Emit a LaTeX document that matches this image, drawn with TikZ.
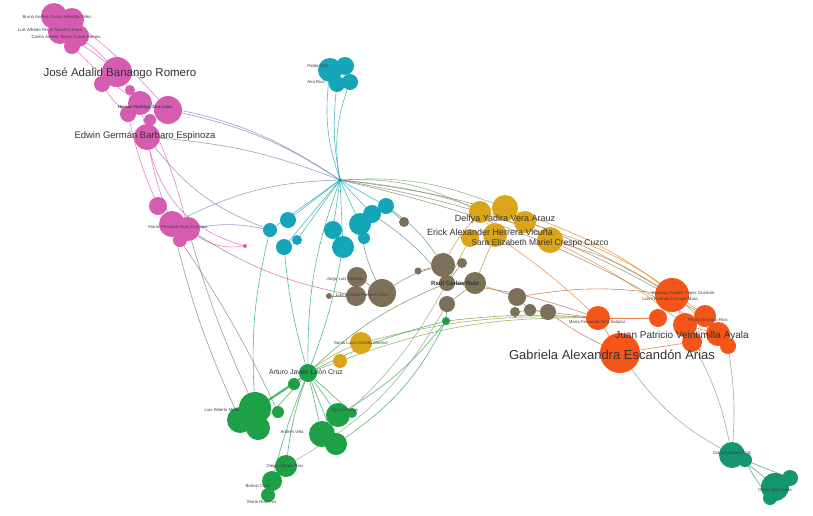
\documentclass[tikz,border=0pt]{standalone}
\usepackage{fontspec}
\setmainfont{Liberation Sans}
\usetikzlibrary{backgrounds}
\definecolor{pinkc}{RGB}{214,92,178}
\definecolor{tealc}{RGB}{20,165,185}
\definecolor{brownc}{RGB}{125,112,88}
\definecolor{goldc}{RGB}{218,165,25}
\definecolor{orangec}{RGB}{244,85,25}
\definecolor{greenc}{RGB}{30,160,70}
\definecolor{seac}{RGB}{20,150,110}
\begin{document}
\begin{tikzpicture}[x=1pt, y=-1pt,
  nd/.style={circle, inner sep=0pt, minimum size=#1pt},
  pk/.style={nd=#1, fill=pinkc},
  tl/.style={nd=#1, fill=tealc},
  br/.style={nd=#1, fill=brownc},
  gd/.style={nd=#1, fill=goldc},
  og/.style={nd=#1, fill=orangec},
  gr/.style={nd=#1, fill=greenc},
  sg/.style={nd=#1, fill=seac},
  ed/.style={draw=#1, line width=0.6pt, draw opacity=0.75},
  lab/.style={font=\fontsize{4.3}{4.3}\selectfont, text=black!75, inner sep=0pt},
  biglab/.style={font=\fontsize{#1}{#1}\selectfont, text=black!80, inner sep=0pt}
]
\path[use as bounding box] (0,0) rectangle (813,515);
% pink group
\node[pk=26] (p1) at (54,16) {};
\node[pk=24] (p2) at (72,20) {};
\node[pk=24] (p3) at (60,32) {};
\node[pk=22] (p4) at (78,36) {};
\node[pk=16] (p5) at (72,46) {};
\node[pk=30] (p6) at (117,72) {};
\node[pk=16] (p7) at (102,84) {};
\node[pk=10] (p8) at (130,90) {};
\node[pk=24] (p9) at (140,103) {};
\node[pk=28] (p10) at (168,110) {};
\node[pk=16] (p11) at (128,114) {};
\node[pk=12] (p12) at (150,120) {};
\node[pk=26] (p13) at (147,137) {};
\node[pk=18] (p14) at (158,206) {};
\node[pk=26] (p15) at (172,224) {};
\node[pk=24] (p16) at (188,229) {};
\node[pk=14] (p17) at (180,240) {};
\node[pk=4] (p18) at (245,246) {};
% teal group
\node[tl=24] (t1) at (330,70) {};
\node[tl=18] (t2) at (345,66) {};
\node[tl=16] (t3) at (350,82) {};
\node[tl=16] (t4) at (337,84) {};
\node[tl=4] (th) at (340,180) {};
\node[tl=14] (t5) at (270,230) {};
\node[tl=16] (t6) at (288,220) {};
\node[tl=16] (t7) at (284,247) {};
\node[tl=10] (t8) at (297,240) {};
\node[tl=18] (t9) at (333,230) {};
\node[tl=22] (t10) at (343,247) {};
\node[tl=22] (t11) at (360,224) {};
\node[tl=18] (t12) at (372,214) {};
\node[tl=16] (t13) at (386,206) {};
\node[tl=12] (t14) at (364,238) {};
% brown group
\node[br=10] (b1) at (404,222) {};
\node[br=20] (b2) at (357,277) {};
\node[br=28] (b3) at (382,293) {};
\node[br=20] (b4) at (356,296) {};
\node[br=6] (b5) at (329,296) {};
\node[br=7] (b6) at (418,271) {};
\node[br=24] (b7) at (443,265) {};
\node[br=10] (b8) at (462,263) {};
\node[br=16] (b9) at (447,283) {};
\node[br=22] (b10) at (475,283) {};
\node[br=16] (b11) at (447,304) {};
\node[br=18] (b12) at (517,297) {};
\node[br=12] (b13) at (530,310) {};
\node[br=16] (b14) at (548,312) {};
\node[br=10] (b15) at (515,312) {};
% gold group
\node[gd=22] (y1) at (480,212) {};
\node[gd=26] (y2) at (505,208) {};
\node[gd=22] (y3) at (525,222) {};
\node[gd=24] (y4) at (495,235) {};
\node[gd=26] (y5) at (550,240) {};
\node[gd=18] (y6) at (470,238) {};
\node[gd=22] (y7) at (361,343) {};
\node[gd=14] (y8) at (340,361) {};
% orange group
\node[og=24] (o1) at (598,318) {};
\node[og=40] (o2) at (620,353) {};
\node[og=34] (o3) at (672,295) {};
\node[og=18] (o4) at (658,318) {};
\node[og=24] (o5) at (685,325) {};
\node[og=22] (o6) at (705,316) {};
\node[og=24] (o7) at (718,334) {};
\node[og=20] (o8) at (692,342) {};
\node[og=16] (o9) at (728,346) {};
% green group
\node[gr=8] (g0) at (446,321) {};
\node[gr=18] (gh) at (308,373) {};
\node[gr=12] (g1) at (294,384) {};
\node[gr=32] (g2) at (255,408) {};
\node[gr=26] (g3) at (240,420) {};
\node[gr=24] (g4) at (258,428) {};
\node[gr=12] (g5) at (278,412) {};
\node[gr=24] (g6) at (338,415) {};
\node[gr=26] (g7) at (322,434) {};
\node[gr=22] (g8) at (336,444) {};
\node[gr=22] (g9) at (286,466) {};
\node[gr=20] (g10) at (272,481) {};
\node[gr=14] (g11) at (268,495) {};
\node[gr=10] (g12) at (352,413) {};
% sea green group
\node[sg=26] (s1) at (732,455) {};
\node[sg=14] (s2) at (745,460) {};
\node[sg=28] (s3) at (775,487) {};
\node[sg=16] (s4) at (790,478) {};
\node[sg=14] (s5) at (770,498) {};

\begin{pgfonlayer}{background}
\fill[white] (0,0) rectangle (813,515);
% pink links
\draw[ed=pinkc] (p2) to[bend left=5] (p10);
\draw[ed=pinkc] (p3) to[bend left=5] (p6);
\draw[ed=pinkc] (p4) to[bend left=5] (p6);
\draw[ed=pinkc] (p5) to[bend right=5] (p9);
\draw[ed=pinkc] (p6) -- (p9);
\draw[ed=pinkc] (p7) to[bend right=8] (p11);
\draw[ed=pinkc] (p9) -- (p13);
\draw[ed=pinkc] (p11) to[bend right=5] (p14);
\draw[ed=pinkc] (p13) to[bend right=5] (p15);
\draw[ed=pinkc] (p12) to[bend left=5] (p16);
\draw[ed=pinkc] (p13) to[bend right=30] (p18);
\draw[ed=pinkc] (p16) to[bend right=20] (p18);
% pink to teal
\draw[ed=tealc!45!pinkc] (p10) to[bend left=10] (th);
\draw[ed=tealc!45!pinkc] (p13) to[bend left=8] (th);
\draw[ed=tealc!45!pinkc] (p9) to[bend left=12] (th);
\draw[ed=tealc!45!pinkc] (p15) to[bend left=12] (th);
\draw[ed=tealc!45!pinkc] (p16) to[bend left=10] (t5);
\draw[ed=tealc!45!pinkc] (p13) to[bend right=15] (t5);
\draw[ed=pinkc!60!brownc] (p16) to[bend right=10] (b4);
% teal links
\draw[ed=tealc] (t1) to[bend right=12] (th);
\draw[ed=tealc] (t4) to[bend right=8] (th);
\draw[ed=tealc] (t3) to[bend right=14] (th);
\foreach \t in {t5,t6,t7,t8,t9,t10,t11,t12,t13}
  \draw[ed=tealc] (th) -- (\t);
\draw[ed=tealc] (t11) -- (t14);
\draw[ed=tealc!50!goldc] (th) to[bend left=14] (y1);
\draw[ed=tealc!50!goldc] (th) to[bend left=12] (y2);
\draw[ed=tealc!50!goldc] (th) to[bend left=10] (y5);
\draw[ed=tealc!50!orangec] (th) to[bend left=12] (o3);
\draw[ed=tealc!50!orangec] (th) to[bend left=10] (o6);
\draw[ed=tealc!50!orangec] (th) to[bend left=9] (o7);
\draw[ed=tealc!50!brownc] (t13) to[bend left=10] (b7);
\draw[ed=tealc!50!brownc] (t12) to[bend left=8] (b9);
\draw[ed=tealc!50!brownc] (t11) to[bend right=8] (b3);
\draw[ed=tealc!50!brownc] (b1) -- (t13);
\draw[ed=tealc!50!greenc] (th) to[bend right=10] (gh);
\draw[ed=tealc!50!greenc] (t7) to[bend right=5] (gh);
\draw[ed=tealc!50!greenc] (t10) to[bend left=5] (gh);
\draw[ed=tealc!50!greenc] (t5) to[bend right=8] (g2);
% pink to green
\draw[ed=pinkc!40!greenc] (p15) to[bend right=5] (g3);
\draw[ed=pinkc!40!greenc] (p16) to[bend right=4] (g2);
\draw[ed=pinkc!40!greenc] (p17) to[bend left=4] (g5);
% brown links
\draw[ed=brownc] (b2) -- (b3);
\draw[ed=brownc] (b4) -- (b3);
\draw[ed=brownc] (b5) -- (b4);
\draw[ed=brownc] (b3) to[bend left=8] (b7);
\draw[ed=brownc] (b6) -- (b7);
\draw[ed=brownc] (b7) -- (b9);
\draw[ed=brownc] (b8) -- (b9);
\draw[ed=brownc] (b9) -- (b10);
\draw[ed=brownc] (b11) -- (b10);
\draw[ed=brownc] (b10) -- (b12);
\draw[ed=brownc] (b12) -- (b13);
\draw[ed=brownc] (b13) -- (b14);
\draw[ed=brownc] (b15) -- (b13);
\draw[ed=brownc!50!orangec] (b9) to[bend left=6] (o1);
\draw[ed=brownc!50!orangec] (b13) -- (o1);
\draw[ed=brownc!50!orangec] (b14) to[bend right=5] (o2);
\draw[ed=brownc!50!orangec] (b12) to[bend left=8] (o3);
% gold links
\draw[ed=goldc!50!brownc] (y1) to[bend right=6] (b7);
\draw[ed=goldc!50!brownc] (y6) -- (b9);
\draw[ed=goldc!50!brownc] (y4) -- (b10);
\draw[ed=goldc!50!orangec] (y5) to[bend left=8] (o3);
\draw[ed=goldc!50!orangec] (y5) to[bend left=6] (o5);
\draw[ed=goldc!50!orangec] (y3) to[bend left=10] (o6);
\draw[ed=goldc!50!orangec] (y4) to[bend left=4] (o1);
\draw[ed=goldc!50!orangec] (y2) to[bend left=12] (o7);
\draw[ed=goldc] (y1) -- (y4);
\draw[ed=goldc] (y3) -- (y5);
% green links
\foreach \g in {g1,g2,g3,g4,g6,g7,g8,g12}
  \draw[ed=greenc] (gh) -- (\g);
\draw[ed=greenc] (gh) to[bend right=6] (g9);
\draw[ed=greenc] (gh) to[bend right=4] (g10);
\draw[ed=greenc] (g1) -- (g2);
\draw[ed=greenc] (g1) -- (g3);
\draw[ed=greenc] (g2) -- (g4);
\draw[ed=greenc] (g5) -- (g2);
\draw[ed=greenc] (g6) -- (g7);
\draw[ed=greenc] (g7) -- (g8);
\draw[ed=greenc] (g9) -- (g10);
\draw[ed=greenc] (g10) -- (g11);
\draw[ed=greenc!50!goldc] (gh) to[bend left=8] (y7);
\draw[ed=greenc!50!goldc] (gh) -- (y8);
\draw[ed=greenc!50!goldc] (y7) to[bend left=8] (o1);
\draw[ed=greenc!50!goldc] (y8) to[bend left=10] (o1);
\draw[ed=greenc!50!brownc] (gh) to[bend left=10] (b9);
\draw[ed=greenc] (gh) to[bend left=6] (g0);
\draw[ed=greenc] (g6) to[bend right=10] (g0);
\draw[ed=greenc] (g8) to[bend right=14] (g0);
\draw[ed=greenc!50!orangec] (g0) to[bend left=5] (o1);
\draw[ed=greenc!50!brownc] (g0) -- (b11);
\draw[ed=greenc!40!black!50] (g9) to[bend right=15] (b11);
\draw[ed=greenc!40!black!50] (g7) to[bend right=10] (b9);
% orange links
\draw[ed=orangec] (o1) -- (o2);
\draw[ed=orangec] (o4) -- (o1);
\draw[ed=orangec] (o3) -- (o4);
\draw[ed=orangec] (o3) -- (o5);
\draw[ed=orangec] (o5) -- (o6);
\draw[ed=orangec] (o5) -- (o7);
\draw[ed=orangec] (o7) -- (o9);
\draw[ed=orangec] (o8) -- (o2);
% orange to sea green
\draw[ed=black!45] (o2) to[bend right=12] (s1);
\draw[ed=black!45] (o8) to[bend left=8] (s1);
\draw[ed=black!45] (o9) to[bend left=6] (s1);
\draw[ed=seac] (s1) to[bend left=5] (s3);
\draw[ed=seac] (s2) to[bend right=5] (s5);
\draw[ed=seac] (s1) -- (s4);
\end{pgfonlayer}

% labels
\node[biglab=11.5] (lJose) at (120,73) {José Adalid Banango Romero};
\node[biglab=9.5] (lEdwin) at (145,136) {Edwin Germán Barbaro Espinoza};
\node[biglab=9] (lDelfya) at (505,219) {Delfya Yadira Vera Arauz};
\node[biglab=9] (lErick) at (490,232) {Erick Alexander Herrera Vicuña};
\node[biglab=8.5] (lSara) at (540,243) {Sara Elizabeth Mariel Crespo Cuzco};
\node[biglab=13] (lGabi) at (612,355) {Gabriela Alexandra Escandón Arias};
\node[biglab=10] (lJuan) at (682,336) {Juan Patricio Veintimilla Ayala};
\node[biglab=6, font=\fontsize{6}{6}\selectfont\bfseries] (lRaul) at (455,283) {Raúl Carlos Ruiz};
\node[biglab=7] (lArturo) at (306,372) {Arturo Javier León Cruz};
\node[lab] (l1) at (57,17) {Bruno Andrés Castro Almeida Vélez};
\node[lab] (l2) at (50,30) {Luis Alfredo Pérez Sánchez Mora};
\node[lab] (l3) at (66,37) {Carlos Andrés Torres Cueva Ramos};
\node[lab, font=\fontsize{4.3}{4.3}\selectfont\bfseries] (l4) at (145,107) {Hernán Rodrigo Jara León};
\node[lab] (l5) at (178,227) {María Fernanda Ruiz Carrasco};
\node[lab] (l6) at (318,66) {Pablo Ortiz};
\node[lab] (l7) at (316,82) {Ana Ruiz};
\node[lab] (l8) at (345,279) {Jorge Luis Almeida};
\node[lab] (l9) at (362,295) {Luis Enrique Paredes Mora};
\node[lab] (l10) at (361,343) {Sonia Lucía Castillo Moreno};
\node[lab] (l11) at (683,293) {Santiago Andrés Yépez Guzmán};
\node[lab] (l12) at (670,299) {Luis Fernando Carvajal Mora};
\node[lab] (l13) at (597,322) {María Fernanda Vera Salazar};
\node[lab] (l14) at (708,320) {Pedro Alvarado Ríos};
\node[lab] (l15) at (222,410) {Luis Alberto Mena};
\node[lab] (l16) at (345,410) {Byron Ortega};
\node[lab] (l17) at (292,432) {Andrés Villa};
\node[lab] (l18) at (285,466) {Diego Salinas Ríos};
\node[lab] (l19) at (258,486) {Bolívar Cano};
\node[lab] (l20) at (262,502) {Mario Ruiz Paz};
\node[lab] (l21) at (732,453) {Diana Marcela Ortiz};
\node[lab] (l22) at (775,490) {Diego José Lema};
\end{tikzpicture}
\end{document}
